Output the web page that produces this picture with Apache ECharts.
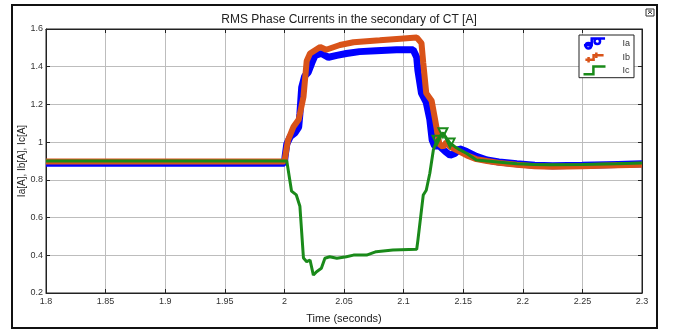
<!DOCTYPE html>
<html><head><meta charset="utf-8">
<script src="https://cdn.jsdelivr.net/npm/echarts@6/dist/echarts.min.js"></script>
<style>html,body{margin:0;padding:0;background:#fff}#c{width:675px;height:329px}</style>
</head><body><div id="c"></div>
<script>
// ---- data ----
const xTicks = [1.8,1.85,1.9,1.95,2,2.05,2.1,2.15,2.2,2.25,2.3];
const yTicks = [0.2,0.4,0.6,0.8,1,1.2,1.4,1.6];

const iaTime = [1.8,2.0,2.0005,2.002,2.005,2.009,2.012,2.013,2.0145,2.017,2.02,2.023,2.0257,2.031,2.037,2.044,2.052,2.063,2.077,2.094,2.108,2.111,2.112,2.115,2.119,2.122,2.124,2.126,2.13,2.135,2.139,2.143,2.147,2.153,2.161,2.17,2.18,2.195,2.21,2.225,2.25,2.28,2.3];
const iaVal  = [0.888,0.888,0.92,0.99,1.03,1.05,1.08,1.15,1.29,1.35,1.37,1.42,1.46,1.47,1.45,1.46,1.47,1.48,1.485,1.49,1.49,1.45,1.38,1.26,1.21,1.12,1.01,0.98,0.98,0.95,0.93,0.94,0.965,0.95,0.925,0.905,0.895,0.885,0.877,0.875,0.877,0.882,0.885];

const ibTime = [1.8,2.0,2.003,2.0075,2.012,2.016,2.0187,2.0215,2.03,2.035,2.0466,2.058,2.08,2.1,2.111,2.115,2.1165,2.119,2.1235,2.126,2.13,2.133,2.136,2.139,2.1445,2.153,2.161,2.17,2.18,2.195,2.21,2.225,2.25,2.28,2.3];
const ibVal  = [0.898,0.898,1.01,1.08,1.12,1.24,1.43,1.47,1.505,1.49,1.515,1.53,1.54,1.55,1.555,1.525,1.42,1.26,1.22,1.135,0.99,0.975,1.0,0.975,0.958,0.93,0.91,0.9,0.89,0.88,0.872,0.87,0.872,0.877,0.88];

const icTime = [1.8,2.002,2.006,2.01,2.013,2.016,2.0187,2.0215,2.0243,2.027,2.031,2.034,2.038,2.044,2.052,2.058,2.069,2.077,2.091,2.111,2.112,2.1165,2.119,2.122,2.125,2.128,2.133,2.136,2.139,2.143,2.147,2.153,2.161,2.17,2.181,2.195,2.209,2.223,2.25,2.279,2.3];
const icVal  = [0.9,0.9,0.74,0.72,0.66,0.385,0.366,0.375,0.295,0.313,0.331,0.384,0.392,0.384,0.392,0.401,0.401,0.419,0.428,0.432,0.48,0.72,0.745,0.835,0.96,1.01,1.05,1.02,0.995,0.976,0.96,0.94,0.905,0.9,0.893,0.886,0.882,0.88,0.882,0.886,0.89];
const icMarkerTimes = [2.128, 2.133, 2.139];

const seriesNames = ['Ia','Ib','Ic'];
const colors = ['#0000ff','#d95319','#1a8a1a'];

// ---- build ----
const zip = (t,v) => t.map((x,i)=>[x,v[i]]);
const icData = icTime.map((x,i)=> icMarkerTimes.indexOf(x) >= 0
  ? {value:[x,icVal[i]], symbol:'triangle', symbolRotate:180, symbolSize:9,
     itemStyle:{color:'none', borderColor:colors[2], borderWidth:2}}
  : {value:[x,icVal[i]], symbol:'none'});
const fmt = v => String(+(+v).toFixed(2));

const chart = echarts.init(document.getElementById('c'), null, {renderer:'canvas'});
const axLbl = {fontFamily:'Liberation Sans, Arial', fontSize:9, color:'#333'};
chart.setOption({
  animation:false,
  backgroundColor:'#fff',
  title:{text:'RMS Phase Currents in the secondary of CT [A]', left:344, top:9, textAlign:'center',
    textStyle:{fontFamily:'Liberation Sans, Arial', fontSize:12, fontWeight:'normal', color:'#222'}},
  grid:{left:46, right:33, top:29, bottom:36, show:true, borderColor:'#222', borderWidth:1, backgroundColor:'#fff'},
  legend:{
    orient:'vertical', left:579, top:35,
    backgroundColor:'#fff', borderColor:'#222', borderWidth:1,
    padding:[1,4,1,2], itemGap:-1, itemWidth:22, itemHeight:10,
    textStyle:{fontFamily:'Liberation Sans, Arial', fontSize:9, lineHeight:11, height:11, color:'#333', padding:[0,0,0,12]},
    data:[
      {name:'Ia', icon:'path://M2,20 L16,20 L16,8 L40,8 M10,16 A5,5 0 1 1 9.99,16 Z M26,8 A5,5 0 1 1 25.99,8 Z', itemStyle:{color:'none', borderColor:colors[0], borderWidth:2.5}},
      {name:'Ib', icon:'path://M0,16 L18,16 L18,6 L40,6 M7,10 L7,22 M24,0 L24,12', itemStyle:{color:'none', borderColor:colors[1], borderWidth:2.5}},
      {name:'Ic', icon:'path://M0,20 L18,20 L18,6 L40,6', itemStyle:{color:'none', borderColor:colors[2], borderWidth:2.5}}
    ]
  },
  xAxis:[{
    type:'value', min:1.8, max:2.3, interval:0.05,
    name:'Time (seconds)', nameLocation:'middle', nameGap:20,
    nameTextStyle:{fontFamily:'Liberation Sans, Arial', fontSize:11, color:'#222'},
    axisLine:{lineStyle:{color:'#222'}},
    axisTick:{inside:true, length:4, lineStyle:{color:'#222'}},
    axisLabel:Object.assign({formatter:fmt, margin:4}, axLbl),
    splitLine:{show:true, lineStyle:{color:'#bdbdbd', width:1}}
  },{
    type:'value', min:1.8, max:2.3, interval:0.05, position:'top',
    axisLine:{lineStyle:{color:'#222'}}, axisTick:{inside:true, length:4, lineStyle:{color:'#222'}},
    axisLabel:{show:false}, splitLine:{show:false}
  }],
  yAxis:[{
    type:'value', min:0.2, max:1.6, interval:0.2,
    name:'Ia[A], Ib[A], Ic[A]', nameLocation:'middle', nameGap:19, nameMoveOverlap:false,
    nameTextStyle:{fontFamily:'Liberation Sans, Arial', fontSize:10, color:'#222'},
    axisLine:{show:true, lineStyle:{color:'#222'}},
    axisTick:{show:true, inside:true, length:4, lineStyle:{color:'#222'}},
    axisLabel:Object.assign({formatter:fmt, margin:3}, axLbl),
    splitLine:{show:true, lineStyle:{color:'#bdbdbd', width:1}}
  },{
    type:'value', min:0.2, max:1.6, interval:0.2, position:'right',
    axisLine:{show:true, lineStyle:{color:'#222'}},
    axisTick:{show:true, inside:true, length:4, lineStyle:{color:'#222'}},
    axisLabel:{show:false}, splitLine:{show:false}
  }],
  series:[
    {name:'Ia', type:'line', data:zip(iaTime,iaVal), showSymbol:false, symbol:'emptyCircle',
     lineStyle:{color:colors[0], width:7}, itemStyle:{color:colors[0]}, z:2},
    {name:'Ib', type:'line', data:zip(ibTime,ibVal), showSymbol:false, symbol:'none',
     lineStyle:{color:colors[1], width:6}, itemStyle:{color:colors[1]}, z:3},
    {name:'Ic', type:'line', data:icData, showSymbol:true, symbol:'none',
     lineStyle:{color:colors[2], width:3}, itemStyle:{color:colors[2]}, z:4}
  ],
  graphic:[
    {type:'rect', shape:{x:12, y:5, width:645, height:323}, style:{fill:'none', stroke:'#111', lineWidth:2}, silent:true, z:100},
    {type:'rect', shape:{x:646, y:9, width:8, height:7}, style:{fill:'#fff', stroke:'#333', lineWidth:1}, z:101},
    {type:'polyline', shape:{points:[[648,11],[652,11]]}, style:{stroke:'#333', lineWidth:1}, z:102},
    {type:'polyline', shape:{points:[[648,14],[650,12],[652,14]]}, style:{stroke:'#333', fill:'none', lineWidth:1}, z:102}
  ]
});
</script></body></html>
